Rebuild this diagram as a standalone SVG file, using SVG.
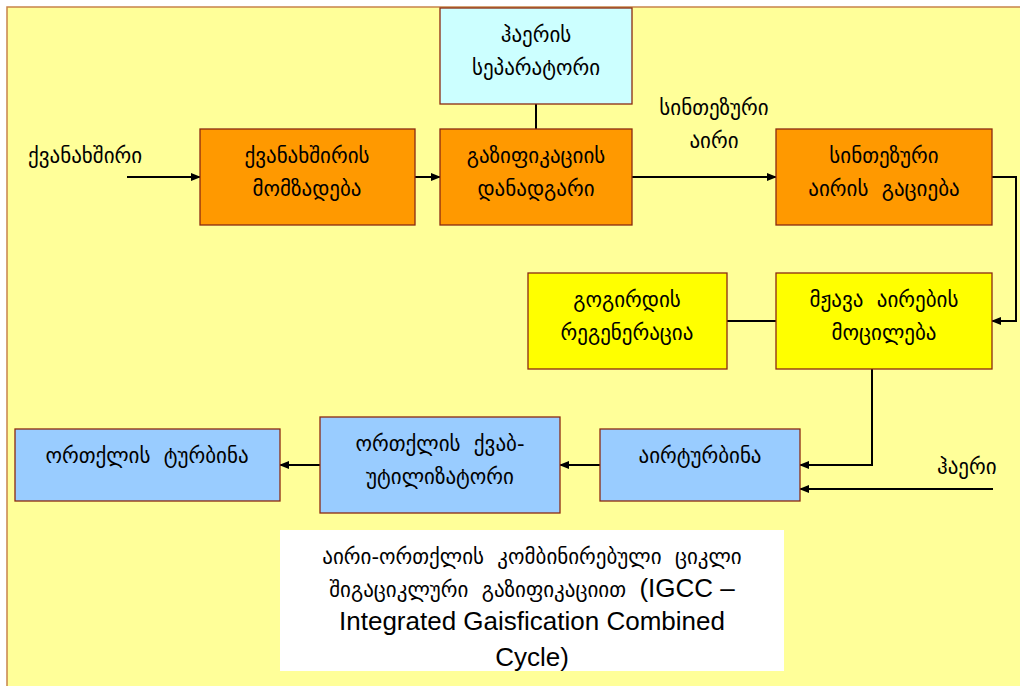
<svg xmlns="http://www.w3.org/2000/svg" width="1020" height="686" viewBox="0 0 1020 686">
<style>
.bg{fill:#FFFF99;stroke:#C8844A;stroke-width:1.5}
.box{stroke:#8B2A12;stroke-width:1.3}
.or{fill:#FF9900}
.cy{fill:#CCFFFF}
.ye{fill:#FFFF00}
.bl{fill:#99CCFF}
text{white-space:pre}
.t{font-family:"DejaVu Sans",sans-serif;font-size:21px;fill:#000;text-anchor:middle}
.lbl{font-family:"DejaVu Sans",sans-serif;font-size:21px;fill:#000}
.en{font-family:"Liberation Sans",Arial,sans-serif;font-size:26px}
.c{fill:none;stroke:#000;stroke-width:2}
</style>
<defs>
<marker id="ah" markerWidth="10" markerHeight="8" refX="9" refY="4" orient="auto" markerUnits="userSpaceOnUse">
<path d="M0,0 L10,4 L0,8 Z" fill="#000"/>
</marker>
<clipPath id="capclip"><rect x="280" y="530" width="504" height="141"/></clipPath>
</defs>
<rect x="0" y="0" width="1020" height="686" fill="#FFFFFF"/>
<rect class="bg" x="7" y="7" width="1020" height="690"/>

<g id="connectors">
<line class="c" x1="127" y1="177" x2="200" y2="177" marker-end="url(#ah)"/>
<line class="c" x1="415" y1="177" x2="440" y2="177" marker-end="url(#ah)"/>
<line class="c" x1="536" y1="104" x2="536" y2="129"/>
<line class="c" x1="632" y1="177" x2="776" y2="177" marker-end="url(#ah)"/>
<polyline class="c" points="992,177 1016,177 1016,321 992,321" marker-end="url(#ah)"/>
<line class="c" x1="727" y1="321" x2="776" y2="321"/>
<polyline class="c" points="872,369 872,465 800,465" marker-end="url(#ah)"/>
<line class="c" x1="993" y1="489" x2="800" y2="489" marker-end="url(#ah)"/>
<line class="c" x1="600" y1="465" x2="560" y2="465" marker-end="url(#ah)"/>
<line class="c" x1="320" y1="465" x2="280" y2="465" marker-end="url(#ah)"/>
<text class="lbl" x="28" y="163">ქვანახშირი</text>
<text class="t" x="714" y="115">სინთეზური</text>
<text class="t" x="714" y="148">აირი</text>
<text class="lbl" x="937" y="474">ჰაერი</text>
</g>

<g id="separator">
<rect class="box cy" x="440" y="8" width="192" height="96"/>
<text class="t" x="536" y="42">ჰაერის</text>
<text class="t" x="536" y="75">სეპარატორი</text>
</g>
<g id="coal-prep">
<rect class="box or" x="200" y="129" width="215" height="96"/>
<text class="t" x="307" y="163">ქვანახშირის</text>
<text class="t" x="307" y="196">მომზადება</text>
</g>
<g id="gasifier">
<rect class="box or" x="440" y="129" width="192" height="96"/>
<text class="t" x="536" y="163">გაზიფიკაციის</text>
<text class="t" x="536" y="196">დანადგარი</text>
</g>
<g id="syngas-cooling">
<rect class="box or" x="776" y="129" width="216" height="96"/>
<text class="t" x="884" y="163">სინთეზური</text>
<text class="t" x="884" y="196">აირის  გაციება</text>
</g>
<g id="sulfur-regen">
<rect class="box ye" x="528" y="273" width="199" height="96"/>
<text class="t" x="627" y="307">გოგირდის</text>
<text class="t" x="627" y="340">რეგენერაცია</text>
</g>
<g id="acid-gas-removal">
<rect class="box ye" x="776" y="273" width="216" height="96"/>
<text class="t" x="884" y="307">მჟავა  აირების</text>
<text class="t" x="884" y="340">მოცილება</text>
</g>
<g id="gas-turbine">
<rect class="box bl" x="600" y="429" width="200" height="72"/>
<text class="t" x="700" y="463">აირტურბინა</text>
</g>
<g id="hrsg">
<rect class="box bl" x="320" y="417" width="240" height="96"/>
<text class="t" x="440" y="451">ორთქლის  ქვაბ-</text>
<text class="t" x="440" y="484">უტილიზატორი</text>
</g>
<g id="steam-turbine">
<rect class="box bl" x="15" y="429" width="265" height="72"/>
<text class="t" x="147" y="463">ორთქლის  ტურბინა</text>
</g>

<g id="caption">
<rect x="280" y="530" width="504" height="141" fill="#FFFFFF"/>
<g clip-path="url(#capclip)">
<text class="t" x="532" y="564">აირი-ორთქლის  კომბინირებული  ციკლი</text>
<text class="t" x="532" y="597">შიგაციკლური  გაზიფიკაციით  <tspan class="en">(IGCC –</tspan></text>
<text class="t en" x="532" y="630">Integrated Gaisfication Combined</text>
<text class="t en" x="532" y="666">Cycle)</text>
</g>
</g>
</svg>
